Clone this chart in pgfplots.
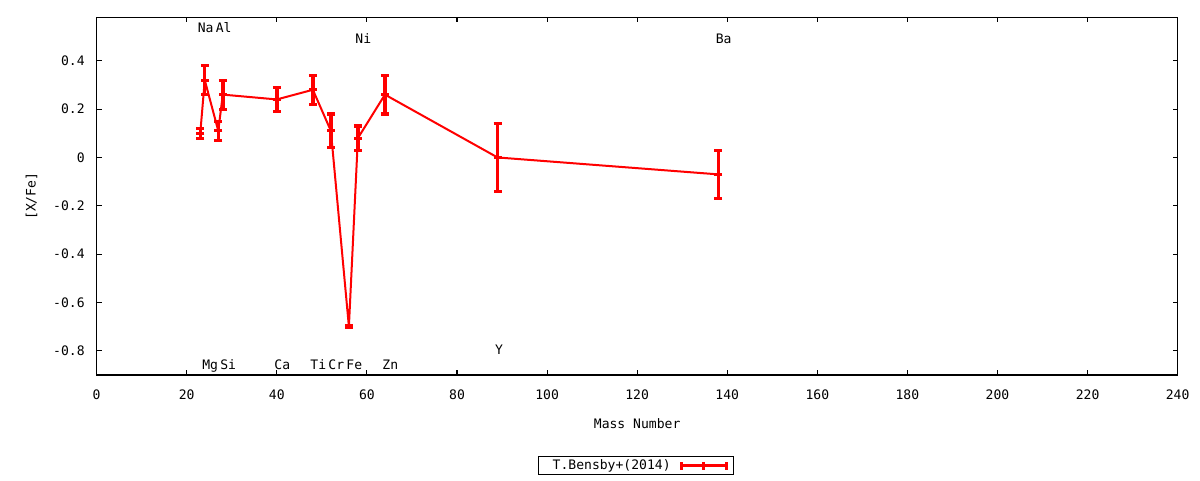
\documentclass[border=0pt]{standalone}
\usepackage{fontspec}
\setmainfont{DejaVu Sans Mono}
\usepackage{pgfplots}
\pgfplotsset{compat=1.18}

\pgfplotstableread{
m    v      e
23   0.10   0.02
24   0.32   0.06
27   0.11   0.04
28   0.26   0.06
40   0.24   0.05
48   0.28   0.06
52   0.11   0.07
56  -0.70   0.005
58   0.08   0.05
64   0.26   0.08
89   0.00   0.14
138 -0.07   0.10
}\bensby

\begin{document}
\fontsize{9.8}{11}\selectfont
\begin{tikzpicture}[x=1pt,y=1pt]
\useasboundingbox (-72.5,-78.75) rectangle (827.5,281.25);
\begin{axis}[
  scale only axis, width=810.75pt, height=268.3pt,
  at={(0,0)}, anchor=south west,
  xmin=0, xmax=240, ymin=-0.9, ymax=0.58,
  xtick={0,20,40,60,80,100,120,140,160,180,200,220,240},
  xticklabels={0,20,40,60,80,100,120,140,160,180,200,220,240},
  ytick={-0.8,-0.6,-0.4,-0.2,0,0.2,0.4},
  yticklabels={-0.8,-0.6,-0.4,-0.2,0,0.2,0.4},
  /pgf/number format/assume math mode=true,
  tick align=inside, major tick length=3.75pt,
  axis line style={line width=0.8pt},
  tick style={line width=0.8pt, black},
  xticklabel style={anchor=north, inner sep=0pt, yshift=-11.25pt},
  yticklabel style={anchor=east, inner sep=0pt, xshift=-8.8pt},
  xlabel={Mass Number},
  xlabel style={at={(axis description cs:0.5,-0.137)}, anchor=center},
  ylabel={[X/Fe]},
  ylabel style={at={(axis description cs:-0.0602,0.5)}, anchor=center},
  legend plot pos=right,
  legend image code/.code={
    \draw[red, line width=2.4pt] (0pt,0pt) -- (33.75pt,0pt);
    \draw[red, line width=2.4pt] (0pt,-3pt) -- (0pt,3pt)
      (16.9pt,-3pt) -- (16.9pt,3pt) (33.75pt,-3pt) -- (33.75pt,3pt);
  },
  legend style={at={(axis description cs:0.499,-0.253)}, anchor=center,
    draw=black, line width=0.75pt, inner xsep=4.2pt, inner ysep=2.5pt,
    nodes={inner sep=0pt},
    /tikz/every odd column/.append style={column sep=6.75pt}},
]
\addplot[red, line width=1.5pt, mark=-, mark size=3pt,
  mark options={line width=2.4pt, solid},
  error bars/.cd, y dir=both, y explicit,
  error bar style={line width=2.6pt, red},
  error mark options={rotate=90, line width=2.4pt, mark size=3pt, red}]
  table[x=m, y=v, y error=e] {\bensby};
\addlegendentry{\hspace{6.3pt}T.Bensby+(2014)}

% element names
\begin{scope}[every node/.style={anchor=base west, inner sep=0pt}]
\node at (axis cs:22.4,0.517) {Na};
\node at (axis cs:26.4,0.517) {Al};
\node at (axis cs:57.4,0.473) {Ni};
\node at (axis cs:137.4,0.473) {Ba};
\node at (axis cs:23.4,-0.8755) {Mg};
\node at (axis cs:27.4,-0.8755) {Si};
\node at (axis cs:39.4,-0.8755) {Ca};
\node at (axis cs:47.4,-0.8755) {Ti};
\node at (axis cs:51.4,-0.8755) {Cr};
\node at (axis cs:55.4,-0.8755) {Fe};
\node at (axis cs:63.4,-0.8755) {Zn};
\node at (axis cs:88.4,-0.815) {Y};
\end{scope}
\end{axis}
\end{tikzpicture}
\end{document}
